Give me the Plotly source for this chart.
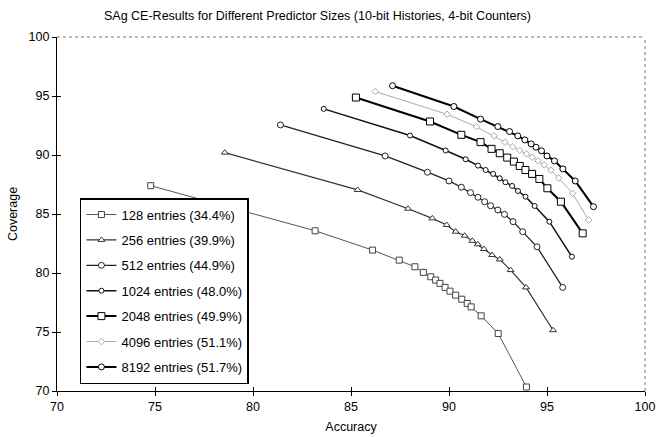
import plotly.graph_objects as go

names = ["128 entries (34.4%)", "256 entries (39.9%)", "512 entries (44.9%)",
         "1024 entries (48.0%)", "2048 entries (49.9%)", "4096 entries (51.1%)",
         "8192 entries (51.7%)"]

acc_128 = [74.78, 83.17, 86.10, 87.46, 88.26, 88.69, 89.07, 89.32, 89.54, 89.80,
           90.05, 90.34, 90.65, 90.93, 91.13, 91.64, 92.51, 93.95]
cov_128 = [87.40, 83.58, 81.94, 81.09, 80.53, 80.05, 79.68, 79.40, 79.12, 78.78,
           78.46, 78.12, 77.78, 77.42, 77.13, 76.37, 74.87, 70.34]

acc_256 = [78.56, 85.34, 87.91, 89.15, 89.88, 90.34, 90.80, 91.19, 91.47, 91.78,
           92.20, 92.59, 93.14, 93.93, 95.31]
cov_256 = [90.20, 87.04, 85.45, 84.63, 84.07, 83.50, 83.16, 82.73, 82.43, 82.03,
           81.52, 81.15, 80.25, 78.78, 75.15]

acc_512 = [81.40, 86.74, 88.90, 90.00, 90.63, 91.10, 91.48, 91.82, 92.12, 92.49,
           92.83, 93.27, 93.76, 94.49, 95.80]
cov_512 = [92.55, 89.92, 88.54, 87.80, 87.27, 86.81, 86.42, 86.04, 85.70, 85.34,
           84.97, 84.35, 83.50, 82.22, 78.78]

acc_1024 = [83.61, 88.01, 89.83, 90.85, 91.48, 91.87, 92.25, 92.59, 92.88, 93.22,
            93.52, 93.90, 94.37, 95.12, 96.27]
cov_1024 = [93.91, 91.65, 90.38, 89.64, 89.10, 88.73, 88.40, 88.03, 87.69, 87.38,
            86.95, 86.47, 85.68, 84.35, 81.38]

acc_2048 = [85.25, 89.03, 90.63, 91.61, 92.17, 92.59, 92.97, 93.31, 93.61, 93.90,
            94.24, 94.61, 95.02, 95.71, 96.82]
cov_2048 = [94.87, 92.84, 91.71, 91.09, 90.52, 90.15, 89.78, 89.44, 89.07, 88.73,
            88.40, 87.97, 87.18, 86.04, 83.36]

acc_4096 = [86.24, 89.90, 91.40, 92.30, 92.85, 93.25, 93.60, 93.95, 94.25, 94.55,
            94.85, 95.20, 95.60, 96.30, 97.12]
cov_4096 = [95.38, 93.45, 92.40, 91.62, 91.08, 90.70, 90.40, 90.10, 89.82, 89.50,
            89.17, 88.72, 88.05, 86.75, 84.49]

acc_8192 = [87.12, 90.25, 91.61, 92.49, 93.09, 93.51, 93.87, 94.19, 94.44, 94.72,
            95.00, 95.38, 95.81, 96.44, 97.37]
cov_8192 = [95.87, 94.11, 93.04, 92.41, 91.99, 91.62, 91.28, 90.94, 90.66, 90.35,
            89.92, 89.50, 88.82, 87.80, 85.62]

x_ticks = [70, 75, 80, 85, 90, 95, 100]
y_ticks = [70, 75, 80, 85, 90, 95, 100]

series = [
    (acc_128, cov_128, "square", 6, "#555555", 1.0, "#444444"),
    (acc_256, cov_256, "triangle-up", 6, "#333333", 1.2, "#333333"),
    (acc_512, cov_512, "circle", 6, "#222222", 1.3, "#222222"),
    (acc_1024, cov_1024, "circle", 5, "#111111", 1.5, "#111111"),
    (acc_2048, cov_2048, "square", 7, "#000000", 2.0, "#000000"),
    (acc_4096, cov_4096, "diamond", 5, "#aaaaaa", 1.0, "#aaaaaa"),
    (acc_8192, cov_8192, "circle", 6, "#000000", 2.0, "#000000"),
]

fig = go.Figure()
for i, (xs, ys, sym, ms, lc, lw, mc) in enumerate(series):
    fig.add_trace(go.Scatter(
        x=xs, y=ys, mode="lines+markers", name=names[i], legendgroup=str(i),
        line=dict(color=lc, width=lw),
        marker=dict(symbol=sym, size=ms, color="white", line=dict(color=mc, width=1)),
    ))

font = "Liberation Sans, Arial, sans-serif"
fig.update_layout(
    width=656, height=437,
    margin=dict(l=57, r=11, t=37, b=46, autoexpand=False),
    paper_bgcolor="white", plot_bgcolor="white",
    font=dict(family=font, size=13, color="black"),
    title=dict(text="SAg CE-Results for Different Predictor Sizes (10-bit Histories, 4-bit Counters)",
               font=dict(size=12.5, family=font, color="black"),
               x=0.484, xanchor="center", xref="container", y=0.965, yanchor="middle"),
    xaxis=dict(range=[70, 100], tickvals=x_ticks, ticktext=[str(v) for v in x_ticks],
               showgrid=False, zeroline=False, showline=True, linecolor="black", linewidth=1.2,
               ticks="outside", ticklen=4, tickcolor="black", ticklabeloverflow="allow",
               tickfont=dict(size=12.5), automargin=False,
               title=dict(text="Accuracy", font=dict(size=12.5), standoff=9)),
    yaxis=dict(range=[70, 100], tickvals=y_ticks, ticktext=[str(v) for v in y_ticks],
               showgrid=False, zeroline=False, showline=True, linecolor="black", linewidth=1.2,
               ticks="outside", ticklen=4, tickcolor="black", ticklabeloverflow="allow",
               tickfont=dict(size=12.5), automargin=False,
               title=dict(text="Coverage", font=dict(size=12.5), standoff=8)),
    xaxis2=dict(range=[70, 100], overlaying="x", anchor="y", side="bottom", tickvals=x_ticks,
                showticklabels=False, ticks="inside", ticklen=4, tickcolor="black",
                showgrid=False, zeroline=False, showline=False, automargin=False),
    yaxis2=dict(range=[70, 100], overlaying="y", anchor="x", side="left", tickvals=y_ticks,
                showticklabels=False, ticks="inside", ticklen=4, tickcolor="black",
                showgrid=False, zeroline=False, showline=False, automargin=False),
    legend=dict(x=0.039, y=0.545, xanchor="left", yanchor="top",
                bgcolor="white", bordercolor="black", borderwidth=1.5,
                font=dict(size=13, family=font), tracegroupgap=5.5),
    shapes=[
        dict(type="line", xref="paper", yref="paper", x0=0, x1=1, y0=1, y1=1,
             line=dict(color="#777777", width=1, dash="dot")),
        dict(type="line", xref="paper", yref="paper", x0=1, x1=1, y0=0, y1=1,
             line=dict(color="#777777", width=1, dash="dot")),
    ],
)
# invisible trace so the overlay axes (inside tick marks) render
fig.add_trace(go.Scatter(x=[70], y=[70], xaxis="x2", yaxis="y2", mode="markers",
                         marker=dict(opacity=0), showlegend=False, hoverinfo="skip"))

fig.write_html("out.html", config={"displayModeBar": False},
               post_script="document.body.style.margin='0';")
